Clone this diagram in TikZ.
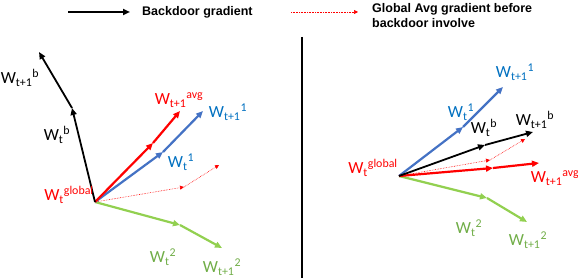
\documentclass[tikz,border=0pt]{standalone}
\usepackage{fontspec}
\setmainfont{Carlito}
\newfontfamily\legfont{Liberation Sans}
\usetikzlibrary{arrows.meta}
\definecolor{cred}{RGB}{255,0,0}
\definecolor{cblue}{RGB}{68,114,196}
\definecolor{lblue}{RGB}{0,112,192}
\definecolor{cgreen}{RGB}{146,208,80}
\definecolor{lgreen}{RGB}{112,173,71}
\newcommand{\wl}[2]{W\textsubscript{#1}\textsuperscript{#2}}
\tikzset{
  vec/.style={line width=2.2pt,-{Triangle[length=7pt,width=6pt]}},
  bvec/.style={line width=1.8pt,black,-{Triangle[length=7pt,width=6pt]}},
  dvec/.style={line width=0.6pt,cred,densely dotted,-{Triangle[length=4pt,width=4pt]}},
  lab/.style={font=\fontsize{17}{20}\selectfont,inner sep=0pt},
  leg/.style={font=\legfont\bfseries\fontsize{12.5}{15}\selectfont,inner sep=0pt,align=left}
}
\begin{document}
\begin{tikzpicture}[x=1pt,y=-1pt]
\useasboundingbox (0,0) rectangle (578,280);
% legend
\coordinate (la0) at (68,12); \coordinate (la1) at (130,12);
\draw[bvec] (la0) -- (la1);
\node[leg,anchor=west] (lt1) at (142,12) {Backdoor gradient};
\coordinate (lb0) at (291,12); \coordinate (lb1) at (358,12);
\draw[dvec] (lb0) -- (lb1);
\node[leg,anchor=west] (lt2) at (372,15.5) {Global Avg gradient before\\backdoor involve};
% divider
\coordinate (v0) at (302,37); \coordinate (v1) at (302,278);
\draw[line width=2pt] (v0) -- (v1);
% ---------- left panel ----------
\coordinate (O1) at (95,202);
\coordinate (Lb1) at (72,108); \coordinate (Lb2) at (39,52);
\coordinate (Lr1) at (153,143); \coordinate (Lr2) at (180,111);
\coordinate (Lu1) at (163,152); \coordinate (Lu2) at (203,111);
\coordinate (Ld1) at (184,187); \coordinate (Ld2) at (219,165);
\coordinate (Lg1) at (180,225); \coordinate (Lg2) at (222,248);
\draw[dvec] (O1) -- (Ld1); \draw[dvec] (Ld1) -- (Ld2);
\draw[vec,cgreen] (O1) -- (Lg1); \draw[vec,cgreen] (Lg1) -- (Lg2);
\draw[vec,cblue] (O1) -- (Lu1); \draw[vec,cblue] (Lu1) -- (Lu2);
\draw[vec,cred] (O1) -- (Lr1); \draw[vec,cred] (Lr1) -- (Lr2);
\draw[bvec] (O1) -- (Lb1); \draw[bvec] (Lb1) -- (Lb2);
\node[lab] (nLb2) at (20,78) {\wl{t+1}{b}};
\node[lab] (nLb1) at (57,135) {\wl{t}{b}};
\node[lab,cred] (nLr2) at (179,100) {\wl{t+1}{avg}};
\node[lab,lblue] (nLu2) at (228,112) {\wl{t+1}{1}};
\node[lab,lblue] (nLu1) at (181,162) {\wl{t}{1}};
\node[lab,cred] (nO1) at (69,195) {\wl{t}{global}};
\node[lab,lgreen] (nLg1) at (163,257) {\wl{t}{2}};
\node[lab,lgreen] (nLg2) at (222,267) {\wl{t+1}{2}};
% ---------- right panel ----------
\coordinate (O2) at (399,176);
\coordinate (Ru1) at (463,127); \coordinate (Ru2) at (503,87);
\coordinate (Rb1) at (485,145); \coordinate (Rb2) at (533,132);
\coordinate (Rd1) at (490,160); \coordinate (Rd2) at (525,139);
\coordinate (Rr1) at (493,168); \coordinate (Rr2) at (539,163);
\coordinate (Rg1) at (487,198); \coordinate (Rg2) at (527,222);
\draw[dvec] (O2) -- (Rd1); \draw[dvec] (Rd1) -- (Rd2);
\draw[vec,cgreen] (O2) -- (Rg1); \draw[vec,cgreen] (Rg1) -- (Rg2);
\draw[vec,cblue] (O2) -- (Ru1); \draw[vec,cblue] (Ru1) -- (Ru2);
\draw[vec,cred] (O2) -- (Rr1); \draw[vec,cred] (Rr1) -- (Rr2);
\draw[bvec] (O2) -- (Rb1); \draw[bvec] (Rb1) -- (Rb2);
\node[lab,lblue] (nRu2) at (515,72) {\wl{t+1}{1}};
\node[lab,lblue] (nRu1) at (461,112) {\wl{t}{1}};
\node[lab] (nRb1) at (484,128) {\wl{t}{b}};
\node[lab] (nRb2) at (535,120) {\wl{t+1}{b}};
\node[lab,cred] (nO2) at (373,168) {\wl{t}{global}};
\node[lab,cred] (nRr2) at (555,178) {\wl{t+1}{avg}};
\node[lab,lgreen] (nRg1) at (469,228) {\wl{t}{2}};
\node[lab,lgreen] (nRg2) at (528,240) {\wl{t+1}{2}};
\end{tikzpicture}
\end{document}
